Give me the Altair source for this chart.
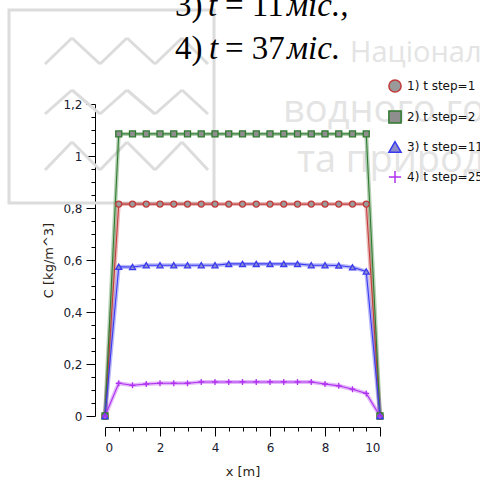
import altair as alt
import pandas as pd

# ---- data ----
x_m = [0, 0.5, 1, 1.5, 2, 2.5, 3, 3.5, 4, 4.5, 5, 5.5, 6, 6.5, 7, 7.5, 8, 8.5, 9, 9.5, 10]
s1 = [0, 0.815, 0.815, 0.815, 0.815, 0.815, 0.815, 0.815, 0.815, 0.815, 0.815,
      0.815, 0.815, 0.815, 0.815, 0.815, 0.815, 0.815, 0.815, 0.815, 0]
s2 = [0, 1.085, 1.085, 1.085, 1.085, 1.085, 1.085, 1.085, 1.085, 1.085, 1.085,
      1.085, 1.085, 1.085, 1.085, 1.085, 1.085, 1.085, 1.085, 1.085, 0]
s3 = [0, 0.574, 0.573, 0.58, 0.58, 0.58, 0.58, 0.58, 0.58, 0.585, 0.585,
      0.585, 0.585, 0.585, 0.585, 0.58, 0.58, 0.579, 0.572, 0.556, 0]
s4 = [0, 0.126, 0.118, 0.123, 0.126, 0.126, 0.126, 0.131, 0.131, 0.131, 0.131,
      0.131, 0.131, 0.131, 0.131, 0.131, 0.123, 0.116, 0.103, 0.087, 0]
series_names = ["1) t step=1", "2) t step=2", "3) t step=11", "4) t step=25"]
y_ticks = [0, 0.05, 0.1, 0.15, 0.2, 0.25, 0.3, 0.35, 0.4, 0.45, 0.5, 0.55, 0.6,
           0.65, 0.7, 0.75, 0.8, 0.85, 0.9, 0.95, 1.0, 1.05, 1.1, 1.15, 1.2]

rows = []
for name, vals in zip(series_names, [s1, s2, s3, s4]):
    for xv, yv in zip(x_m, vals):
        rows.append({"x": xv, "C": yv, "series": name})
df = pd.DataFrame(rows)

stroke_cols = ["#c23b3b", "#2f7a2f", "#3a3af0", "#b030f0"]
fill_cols = ["#9a9a9a", "#8e8e8e", "#8d8dcc", "#b030f0"]
shapes = ["circle", "square", "triangle-up", "M-1,0L1,0M0,-1L0,1"]

AX_FONT = "DejaVu Sans"
OX, OY = 105, 104  # plot origin in page pixels (for annotations only)

x_enc = alt.X(
    "x:Q",
    scale=alt.Scale(domain=[0, 10], nice=False, zero=False),
    axis=alt.Axis(
        title="x [m]", values=x_m, grid=False, offset=11,
        labelExpr="datum.value % 2 == 0 ? format(datum.value, '~g') : ''",
        tickSize={"condition": {"test": "datum.value % 2 == 0", "value": 9}, "value": 4},
        tickColor="#000", domainColor="#000", labelColor="#1a1a30",
        labelFont=AX_FONT, labelFontSize=12, labelPadding=6, labelOverlap=False,
        titleFont=AX_FONT, titleFontSize=13, titleFontWeight="normal",
        titleColor="#2a2418", titlePadding=12,
    ),
)
y_enc = alt.Y(
    "C:Q",
    scale=alt.Scale(domain=[0, 1.2], nice=False, zero=False),
    axis=alt.Axis(
        title="C [kg/m^3]", values=y_ticks, grid=False, offset=10,
        labelExpr="abs(datum.value*5 - round(datum.value*5)) < 0.001 ? replace(format(datum.value, '~g'), '.', ',') : ''",
        tickSize={"condition": {"test": "abs(datum.value*5 - round(datum.value*5)) < 0.001", "value": 9}, "value": 4},
        tickColor="#000", domainColor="#000", labelColor="#1a1a30",
        labelFont=AX_FONT, labelFontSize=12, labelPadding=4, labelOverlap=False,
        titleFont=AX_FONT, titleFontSize=13, titleFontWeight="normal",
        titleColor="#2a2418", titlePadding=7,
    ),
)

stroke_scale = alt.Scale(domain=series_names, range=stroke_cols)
fill_scale = alt.Scale(domain=series_names, range=fill_cols)
shape_scale = alt.Scale(domain=series_names, range=shapes)
leg = alt.Legend(
    title=None, orient="none", legendX=283, legendY=-25,
    symbolSize=150, symbolStrokeWidth=1.5, symbolOpacity=1,
    labelFont=AX_FONT, labelFontSize=12,
    labelColor="#111", rowPadding=11, labelLimit=300, labelOffset=5,
)

base = alt.Chart(df)
glow = base.mark_line(strokeWidth=4, opacity=0.35).encode(
    x=x_enc, y=y_enc,
    stroke=alt.Stroke("series:N", scale=stroke_scale, legend=leg),
    detail="series:N",
)
lines = base.mark_line(strokeWidth=1.1).encode(
    x=x_enc, y=y_enc,
    stroke=alt.Stroke("series:N", scale=stroke_scale, legend=leg),
    detail="series:N",
)
pts = base.mark_point(size=36, filled=False, strokeWidth=1.3, opacity=1).encode(
    x=x_enc, y=y_enc,
    stroke=alt.Stroke("series:N", scale=stroke_scale, legend=leg),
    fill=alt.Fill("series:N", scale=fill_scale, legend=leg),
    shape=alt.Shape("series:N", scale=shape_scale, legend=leg),
)

one = pd.DataFrame({"k": [0]})


def txt(s, px, py, size, color="#000", font="Liberation Serif", style="normal", weight="normal"):
    return alt.Chart(one).mark_text(
        text=s, align="left", baseline="alphabetic", fontSize=size, font=font,
        fontStyle=style, fontWeight=weight, color=color,
    ).encode(x=alt.value(px - OX), y=alt.value(py - OY))


# ---- faint watermark of the scanned page ----
WM = "#e4e4e4"
frame = alt.Chart(one).mark_rect(fill=None, filled=False, stroke="#dcdcdc", strokeWidth=3).encode(
    x=alt.value(9 - OX), x2=alt.value(214 - OX), y=alt.value(10 - OY), y2=alt.value(203 - OY)
)
zig = []
for top, bot in [(38, 64), (90, 114), (142, 170)]:
    xs = [45, 72, 100, 127, 155, 182, 208]
    for i in range(len(xs) - 1):
        y_a = bot if i % 2 == 0 else top
        y_b = top if i % 2 == 0 else bot
        zig.append(
            alt.Chart(one).mark_rule(color="#dcdcdc", strokeWidth=3).encode(
                x=alt.value(xs[i] - OX), x2=alt.value(xs[i + 1] - OX),
                y=alt.value(y_a - OY), y2=alt.value(y_b - OY),
            )
        )
watermark = [
    txt("Національний", 350, 62, 29, WM, "Open Sans"),
    txt("водного господарства", 283, 122, 38, WM, "Open Sans"),
    txt("та природокористування", 297, 172, 38, WM, "Open Sans"),
]
heading = [
    txt("3)", 175, 16, 33),
    txt("t", 208, 16, 33, style="italic"),
    txt("= 11", 225, 16, 33),
    txt("міс.,", 287, 16, 33, style="italic"),
    txt("4)", 175, 59, 33),
    txt("t", 209, 59, 33, style="italic"),
    txt("= 37", 225, 59, 33),
    txt("міс.", 287, 59, 33, style="italic"),
]

chart = alt.layer(frame, *zig, *watermark, *heading, glow, lines, pts).properties(
    width=275, height=312,
    autosize=alt.AutoSizeParams(type="none"),
    padding={"left": OX, "top": OY, "right": 100, "bottom": 66},
    background="white",
).configure_view(stroke=None)

chart.save("out.html", embed_options={"renderer": "svg", "actions": False})
